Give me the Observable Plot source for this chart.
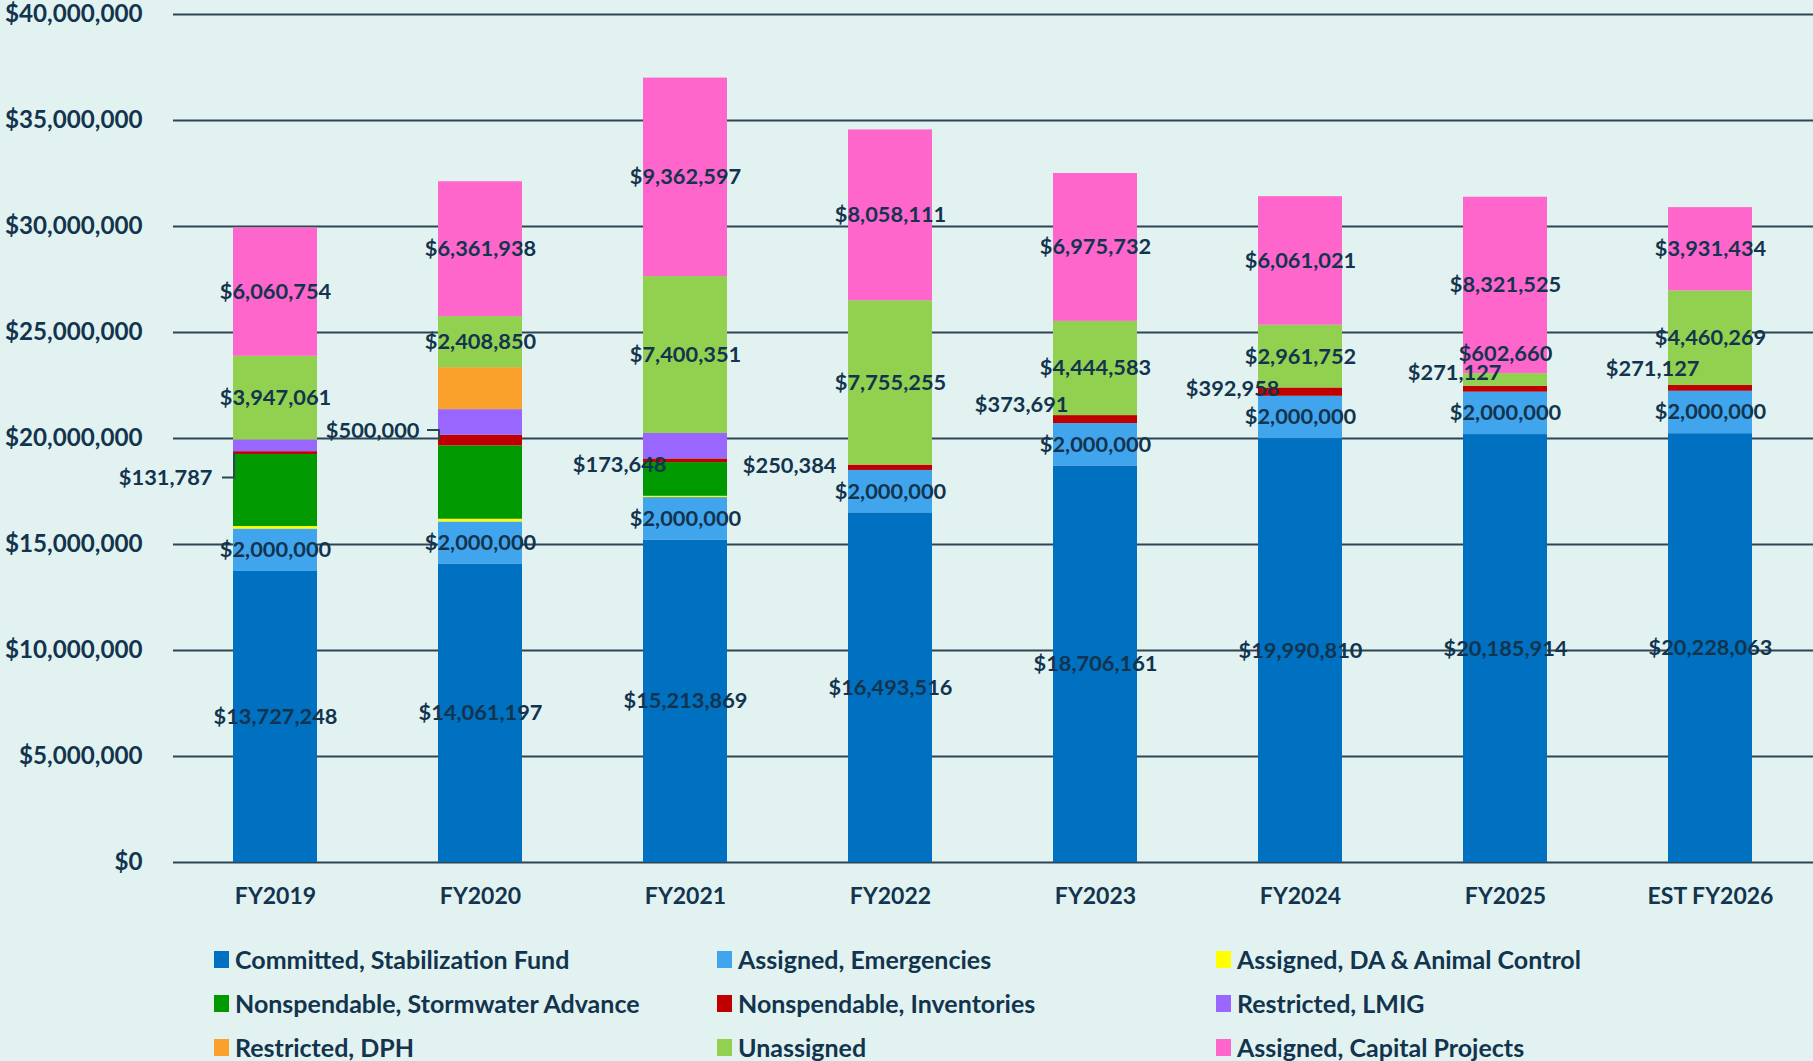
<!DOCTYPE html>
<html><head><meta charset="utf-8">
<script src="https://cdn.jsdelivr.net/npm/d3@7"></script>
<script src="https://cdn.jsdelivr.net/npm/@observablehq/plot@0.6"></script>
<style>
html,body{margin:0;padding:0;background:#E2F2F0;overflow:hidden;}
body{width:1813px;height:1061px;font-family:Lato,"Open Sans",sans-serif;}
#chart svg{display:block;}
#legend{display:grid;grid-template-columns:503px 499px 597px;padding-left:214px;padding-top:17px;}
.item{height:44px;display:flex;align-items:center;font-weight:700;font-size:25px;color:#12344E;white-space:nowrap;}
.sw{width:15px;height:17px;margin-right:6px;flex:none;}
</style></head><body><div id="chart"></div><div id="legend"></div>
<script>
// ---- data ----
const years = ["FY2019","FY2020","FY2021","FY2022","FY2023","FY2024","FY2025","EST FY2026"];
const seriesNames = [
  "Committed, Stabilization Fund","Assigned, Emergencies","Assigned, DA & Animal Control",
  "Nonspendable, Stormwater Advance","Nonspendable, Inventories","Restricted, LMIG",
  "Restricted, DPH","Unassigned","Assigned, Capital Projects"
];
const stabilizationFund = [13727248,14061197,15213869,16493516,18706161,19990810,20185914,20228063];
const emergencies       = [2000000,2000000,2000000,2000000,2000000,2000000,2000000,2000000];
const daAnimalControl   = [120000,130000,60000,0,0,0,0,0];
const stormwaterAdvance = [3400000,3460000,1590000,0,0,0,0,0];
const inventories       = [131787,500000,173648,250384,373691,392958,271127,271127];
const lmig              = [550000,1210000,1200000,0,0,0,0,0];
const dph               = [0,1980000,0,0,0,0,0,0];
const unassigned        = [3947061,2408850,7400351,7755255,4444583,2961752,602660,4460269];
const capitalProjects   = [6060754,6361938,9362597,8058111,6975732,6061021,8321525,3931434];
const yTicks = [0,5000000,10000000,15000000,20000000,25000000,30000000,35000000,40000000];

// ---- styles ----
const colors = ["#0070C0","#41A5EE","#FFFF00","#009900","#C00000","#9966FF","#F9A12A","#92D050","#FF66CC"];
const textColor = "#12344E";
const gridColor = "#2E4554";
const labelSize = 21.8;
// manual label placement (pixels) for the Inventories labels, as in the original
const invNudgeX = [-21,-19,23,-12,15,21,38,31];
const invNudgeY = [25,-10,4,-2,-15,-3,-16,-19];
const leaderYears = ["FY2019","FY2020"];

const valuesBySeries = [stabilizationFund,emergencies,daAnimalControl,stormwaterAdvance,inventories,lmig,dph,unassigned,capitalProjects];
const rows = [];
years.forEach((yr,i)=>{
  let acc = 0;
  seriesNames.forEach((s,j)=>{
    const v = valuesBySeries[j][i];
    rows.push({year:yr, series:s, value:v, y1:acc, y2:acc+v, i});
    acc += v;
  });
});
const fmt = v => "$" + d3.format(",")(v);
const mid = d => (d.y1+d.y2)/2;

const centered = rows.filter(d =>
  d.series==="Committed, Stabilization Fund" || d.series==="Assigned, Emergencies" ||
  d.series==="Assigned, Capital Projects" || (d.series==="Unassigned" && d.value>=1e6));
const smallUnassigned = rows.filter(d => d.series==="Unassigned" && d.value<1e6);
const invRows = rows.filter(d => d.series==="Nonspendable, Inventories");

const W = 1813, ML = 173, MR = 0;
const padInner = 0.59;
const step = (W-ML-MR)/years.length;
const bw = step*(1-padInner);

const invMarks = invRows.map((d,k)=>Plot.text([d],{
  x:"year", y:mid, text:d=>fmt(d.value), textAnchor:"end",
  dx:-bw/2 + invNudgeX[k], dy:invNudgeY[k], fill:textColor, fontSize:labelSize, fontWeight:700
}));

function leaders(index, scales, values, dimensions, context){
  const g = d3.create("svg:g").attr("fill","none").attr("stroke",gridColor).attr("stroke-width",2);
  invRows.forEach((d,k)=>{
    if(!leaderYears.includes(d.year)) return;
    const left = scales.x(d.year);
    const ym = scales.y(mid(d));
    const yl = ym + invNudgeY[k];
    g.append("path").attr("d",`M${left-11},${yl}H${left+1}V${ym}`);
  });
  return g.node();
}

const chart = Plot.plot({
  width:W, height:920, marginTop:14, marginBottom:58, marginLeft:ML, marginRight:MR,
  style:{background:"transparent", fontFamily:"Lato, 'Open Sans', sans-serif", fontSize:"23px", fontWeight:700, color:textColor},
  x:{domain:years, paddingInner:padInner, paddingOuter:padInner/2, align:0.5, label:null},
  y:{domain:[0,40000000], label:null},
  color:{domain:seriesNames, range:colors},
  marks:[
    Plot.gridY({ticks:yTicks, stroke:gridColor, strokeOpacity:1, strokeWidth:2}),
    Plot.axisY({ticks:yTicks, tickFormat:fmt, tickSize:0, tickPadding:31, fontSize:24.2, fontWeight:700, label:null}),
    Plot.axisX({tickSize:0, tickPadding:25, fontSize:23, fontWeight:700, label:null}),
    Plot.barY(rows.filter(d=>d.value>0), {x:"year", y1:"y1", y2:"y2", fill:"series"}),
    Plot.text(centered, {x:"year", y:mid, text:d=>fmt(d.value), fill:textColor, fontSize:labelSize, fontWeight:700}),
    Plot.text(smallUnassigned, {x:"year", y:"y2", text:d=>fmt(d.value), dy:-20, fill:textColor, fontSize:labelSize, fontWeight:700}),
    ...invMarks,
    leaders
  ]
});
document.getElementById("chart").appendChild(chart);

const legend = document.getElementById("legend");
seriesNames.forEach((s,j)=>{
  const it = document.createElement("div"); it.className="item";
  const sw = document.createElement("span"); sw.className="sw"; sw.style.background=colors[j];
  it.appendChild(sw); it.appendChild(document.createTextNode(s));
  legend.appendChild(it);
});
</script></body></html>
